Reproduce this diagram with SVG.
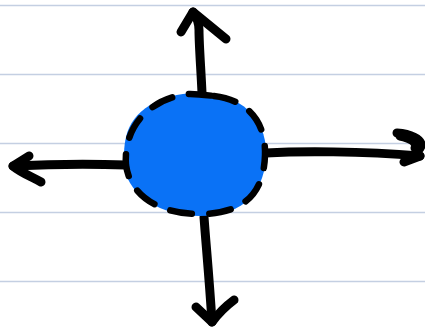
<svg xmlns="http://www.w3.org/2000/svg" width="425" height="329" viewBox="0 0 425 329">
<style>
.rule{stroke:#c4cfe2;stroke-width:1.5;fill:none}
.arrow{stroke:#000;stroke-width:9;fill:none;stroke-linecap:round;stroke-linejoin:round}
.blob{fill:#0a72f6}
.dash{fill:none;stroke:#000;stroke-width:6.5;stroke-linecap:round;stroke-dasharray:22 17}
</style>
<rect width="425" height="329" fill="#fff"/>
<g id="paper">
<line class="rule" x1="0" y1="5.5" x2="425" y2="5.5"/>
<line class="rule" x1="0" y1="74.5" x2="425" y2="74.5"/>
<line class="rule" x1="0" y1="143.5" x2="425" y2="143.5"/>
<line class="rule" x1="0" y1="212.5" x2="425" y2="212.5"/>
<line class="rule" x1="0" y1="281.5" x2="425" y2="281.5"/>
</g>
<g id="connectors">
<path class="arrow" d="M202,93 C201,70 199,45 199,30 C199,22 196,16 193,12"/>
<path class="arrow" d="M181,32 L193,12 L226,39"/>
<path class="arrow" d="M126,165 C95,164 55,164 13,166"/>
<path class="arrow" d="M29,156 L13,166 C20,172 30,176 41,182"/>
<path class="arrow" d="M204,217 C206,245 209,275 212,322"/>
<path class="arrow" d="M196,307 L212,322 C218,314 226,306 234,300"/>
<path class="arrow" d="M266,153 C300,151 360,151 420,156"/>
<path class="arrow" d="M397,133 C410,134 422,139 421,146 C420,151 412,152 420,156 L404,162"/>
<path class="arrow" d="M400,136 C410,138 418,142 415,148"/>
</g>
<g id="node-circle">
<path class="blob" d="M126,137 C132,110 160,94 196,93 C240,92 266,118 266,152 C266,190 245,216 200,216 C160,216 130,195 125,170 C123,158 124,146 126,137 Z"/>
<path class="dash" d="M214,96 C248,100 266,122 265,155 C264,192 245,214 200,214 C158,214 130,195 126,165 C123,125 152,97 190,94 C198,94 206,95 214,96"/>
</g>
</svg>
